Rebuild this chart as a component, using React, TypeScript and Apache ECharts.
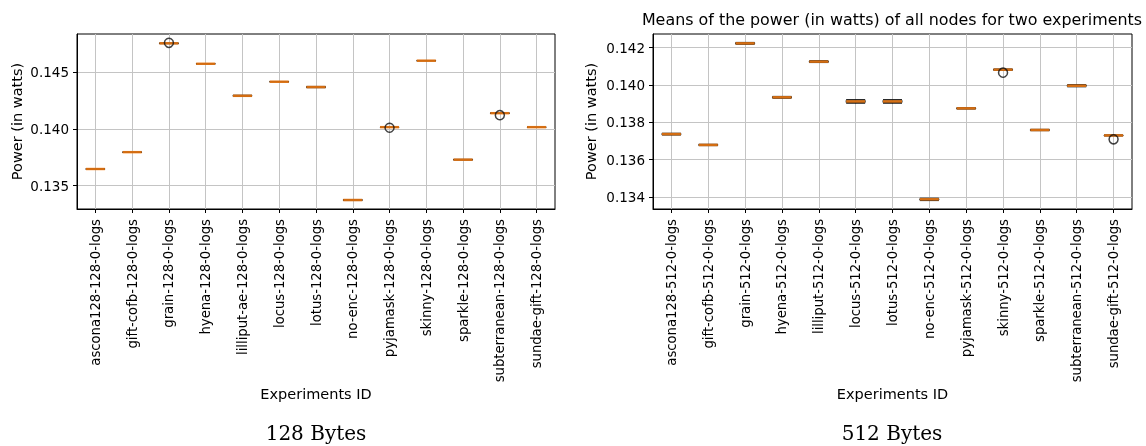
import React, { useEffect, useRef } from "react";
import * as echarts from "echarts";

const categories128 = [
  "ascona128-128-0-logs", "gift-cofb-128-0-logs", "grain-128-0-logs", "hyena-128-0-logs",
  "lilliput-ae-128-0-logs", "locus-128-0-logs", "lotus-128-0-logs", "no-enc-128-0-logs",
  "pyjamask-128-0-logs", "skinny-128-0-logs", "sparkle-128-0-logs", "subterranean-128-0-logs",
  "sundae-gift-128-0-logs",
];
const categories512 = [
  "ascona128-512-0-logs", "gift-cofb-512-0-logs", "grain-512-0-logs", "hyena-512-0-logs",
  "lilliput-512-0-logs", "locus-512-0-logs", "lotus-512-0-logs", "no-enc-512-0-logs",
  "pyjamask-512-0-logs", "skinny-512-0-logs", "sparkle-512-0-logs", "subterranean-512-0-logs",
  "sundae-gift-512-0-logs",
];

// 128 Bytes
const low128 = [0.13643, 0.13792, 0.14749, 0.1457, 0.14285, 0.14412, 0.14362, 0.13369, 0.14012, 0.14597, 0.13725, 0.14135, 0.14012];
const q1_128 = [0.13645, 0.13794, 0.14751, 0.14572, 0.14288, 0.14414, 0.14365, 0.13372, 0.14014, 0.14599, 0.13727, 0.14137, 0.14014];
const med128 = [0.13647, 0.13795, 0.14753, 0.14573, 0.14291, 0.14415, 0.14368, 0.13374, 0.14015, 0.146, 0.13729, 0.14138, 0.14015];
const q3_128 = [0.13649, 0.13796, 0.14755, 0.14574, 0.14294, 0.14416, 0.14371, 0.13376, 0.14016, 0.14601, 0.13731, 0.1414, 0.14016];
const high128 = [0.13651, 0.13798, 0.14757, 0.14576, 0.14297, 0.14418, 0.14374, 0.13379, 0.14018, 0.14603, 0.13733, 0.14142, 0.14018];
const outliers128: [string, number][] = [
  ["grain-128-0-logs", 0.14757],
  ["pyjamask-128-0-logs", 0.1401],
  ["subterranean-128-0-logs", 0.14121],
];

// 512 Bytes
const low512 = [0.13732, 0.13675, 0.14218, 0.13929, 0.1412, 0.13902, 0.13902, 0.13381, 0.13871, 0.14078, 0.13755, 0.1399, 0.13727];
const q1_512 = [0.13734, 0.13677, 0.1422, 0.13931, 0.14122, 0.13906, 0.13906, 0.13384, 0.13873, 0.1408, 0.13757, 0.13993, 0.13728];
const med512 = [0.13737, 0.13679, 0.14223, 0.13934, 0.14125, 0.13912, 0.13912, 0.13388, 0.13875, 0.14082, 0.13759, 0.13996, 0.1373];
const q3_512 = [0.1374, 0.13681, 0.14226, 0.13937, 0.14128, 0.13918, 0.13918, 0.13391, 0.13877, 0.14084, 0.13761, 0.13999, 0.13732];
const high512 = [0.13742, 0.13683, 0.14228, 0.13939, 0.1413, 0.13922, 0.13922, 0.13394, 0.13879, 0.14086, 0.13763, 0.14002, 0.13733];
const outliers512: [string, number][] = [
  ["skinny-512-0-logs", 0.14066],
  ["sundae-gift-512-0-logs", 0.13709],
];

const yTicks128 = [0.135, 0.14, 0.145];
const yTicks512 = [0.134, 0.136, 0.138, 0.14, 0.142];

const titleText = "Means of the power (in watts) of all nodes for two experiments";
const yName = "Power (in watts)";
const xName = "Experiments ID";
const subLabels = ["128 Bytes", "512 Bytes"];

const FONT = "DejaVu Sans";

function boxData(lo: number[], q1: number[], md: number[], q3: number[], hi: number[]) {
  return lo.map((v, i) => [v, q1[i], md[i], q3[i], hi[i]]);
}

function xAxisCfg(cats: string[], gridIndex: number) {
  return {
    type: "category",
    gridIndex,
    data: cats,
    boundaryGap: true,
    name: xName,
    nameLocation: "middle",
    nameGap: 177,
    nameTextStyle: { fontFamily: FONT, fontSize: 14.5, color: "#000" },
    axisLine: { show: true, lineStyle: { color: "#000", width: 1 } },
    axisTick: { show: true, alignWithLabel: true, length: 4, lineStyle: { color: "#000" } },
    axisLabel: { interval: 0, rotate: 90, margin: 10, fontFamily: FONT, fontSize: 13.2, color: "#000" },
    splitLine: { show: true, alignWithLabel: true, interval: 0, lineStyle: { color: "#c4c4c4", width: 1 } },
  };
}

function yAxisCfg(gridIndex: number, min: number, max: number, ticks: number[], gap: number) {
  return {
    type: "value",
    gridIndex,
    min,
    max,
    name: yName,
    nameLocation: "middle",
    nameGap: gap,
    nameTextStyle: { fontFamily: FONT, fontSize: 14.5, color: "#000" },
    axisLine: { show: true, lineStyle: { color: "#000", width: 1 } },
    axisTick: { show: true, length: 4, lineStyle: { color: "#000" }, customValues: ticks },
    axisLabel: {
      fontFamily: FONT,
      fontSize: 13.5,
      color: "#000",
      margin: 8,
      customValues: ticks,
      formatter: (v: number) => v.toFixed(3),
    },
    splitLine: { show: true, lineStyle: { color: "#c4c4c4", width: 1 } },
  };
}

function seriesFor(idx: number, cats: string[], box: number[][], med: number[], outl: [string, number][]) {
  return [
    {
      type: "boxplot",
      xAxisIndex: idx,
      yAxisIndex: idx,
      data: box,
      boxWidth: [19, 19],
      itemStyle: { color: "rgba(0,0,0,0)", borderColor: "#222", borderWidth: 1 },
      emphasis: { disabled: true },
      z: 2,
    },
    {
      type: "scatter",
      xAxisIndex: idx,
      yAxisIndex: idx,
      data: cats.map((c, i) => [c, med[i]]),
      symbol: "rect",
      symbolSize: [19, 2.5],
      itemStyle: { color: "#ff7f0e" },
      emphasis: { disabled: true },
      z: 3,
    },
    {
      type: "scatter",
      xAxisIndex: idx,
      yAxisIndex: idx,
      data: outl,
      symbol: "circle",
      symbolSize: 9,
      itemStyle: { color: "rgba(0,0,0,0)", borderColor: "#111", borderWidth: 1.5 },
      emphasis: { disabled: true },
      z: 4,
    },
  ];
}

export default function App() {
  const ref = useRef<HTMLDivElement>(null);
  useEffect(() => {
    if (!ref.current) return;
    const chart = echarts.init(ref.current, undefined, { renderer: "svg" });
    chart.setOption({
      animation: false,
      grid: [
        { left: 77, top: 34, width: 478, height: 175, show: true, borderColor: "#000", borderWidth: 1, backgroundColor: "transparent" },
        { left: 653, top: 34, width: 479, height: 175, show: true, borderColor: "#000", borderWidth: 1, backgroundColor: "transparent" },
      ],
      xAxis: [xAxisCfg(categories128, 0), xAxisCfg(categories512, 1)],
      yAxis: [
        yAxisCfg(0, 0.13295, 0.14835, yTicks128, 53),
        yAxisCfg(1, 0.13336, 0.14273, yTicks512, 55),
      ],
      series: [
        ...seriesFor(0, categories128, boxData(low128, q1_128, med128, q3_128, high128), med128, outliers128),
        ...seriesFor(1, categories512, boxData(low512, q1_512, med512, q3_512, high512), med512, outliers512),
      ],
      graphic: [
        {
          type: "text",
          x: 892,
          y: 19,
          style: { text: titleText, font: `15.9px "${FONT}"`, fill: "#000", align: "center", verticalAlign: "middle" },
        },
        {
          type: "text",
          x: 316,
          y: 433,
          style: { text: subLabels[0], font: `20px "DejaVu Serif"`, fill: "#000", align: "center", verticalAlign: "middle" },
        },
        {
          type: "text",
          x: 892,
          y: 433,
          style: { text: subLabels[1], font: `20px "DejaVu Serif"`, fill: "#000", align: "center", verticalAlign: "middle" },
        },
      ],
    });
    return () => chart.dispose();
  }, []);
  return <div ref={ref} style={{ position: "fixed", left: 0, top: 0, width: 1146, height: 446 }} />;
}
